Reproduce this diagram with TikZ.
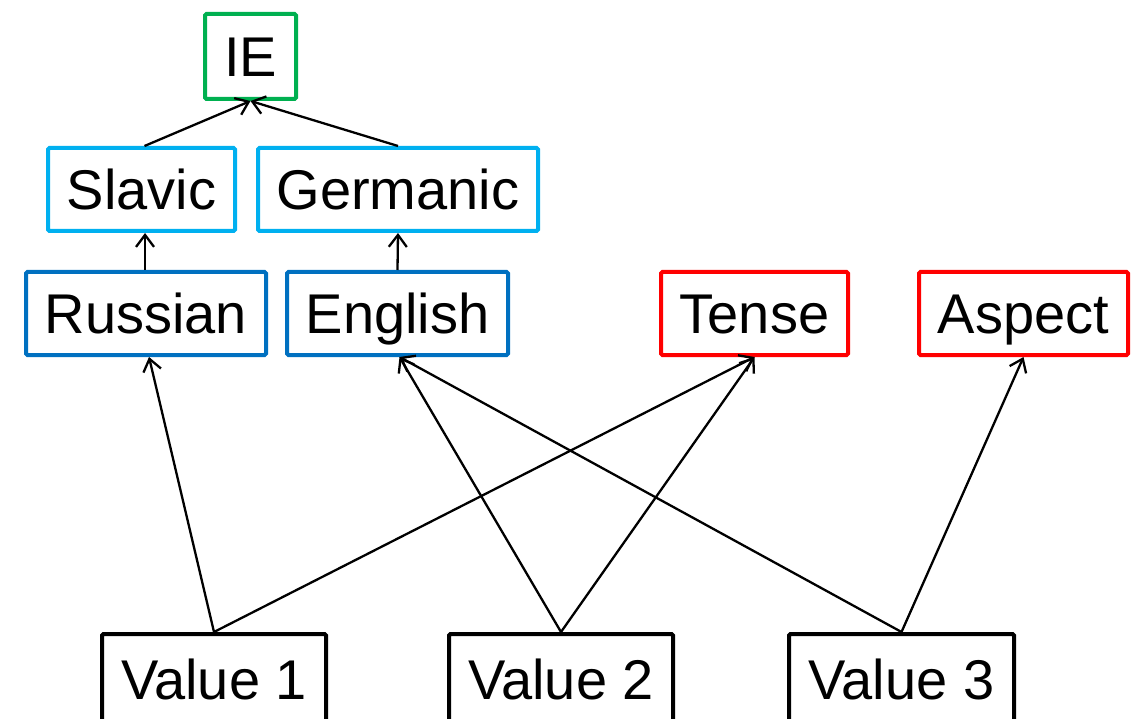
\documentclass[tikz,border=0pt]{standalone}
\usepackage{fontspec}
\setmainfont{Liberation Sans}
\usetikzlibrary{arrows.meta}
\definecolor{iegreen}{HTML}{00B050}
\definecolor{branchblue}{HTML}{00B0F0}
\definecolor{langblue}{HTML}{0070C0}
\definecolor{featred}{HTML}{FF0000}
\tikzset{
  box/.style={draw, line width=4pt, rounded corners=1.5pt, fill=white,
    inner sep=0pt, font=\fontsize{56}{60}\selectfont,
    text height=40pt, text depth=0pt},
  link/.style={line width=2.3pt, -{Straight Barb[length=12pt,width=18pt]}}
}
\begin{document}
\begin{tikzpicture}[x=1pt,y=-1pt]
\useasboundingbox (0,0) rectangle (1146,719);
\clip (0,0) rectangle (1146,719);
% family tree
\node[box, draw=iegreen, minimum width=91pt, minimum height=85pt] (ie) at (250.5,56.5) {IE};
\node[box, draw=branchblue, minimum width=187pt, minimum height=83pt] (sla) at (141.5,189.5) {Slavic};
\node[box, draw=branchblue, minimum width=280pt, minimum height=83pt] (ger) at (398,189.5) {Germanic};
\node[box, draw=langblue, minimum width=240pt, minimum height=83pt] (rus) at (146,313.5) {Russian};
\node[box, draw=langblue, minimum width=221pt, minimum height=83pt] (eng) at (397.5,313.5) {English};
% grammatical features
\node[box, draw=featred, minimum width=187pt, minimum height=83pt] (ten) at (754.5,313.5) {Tense};
\node[box, draw=featred, minimum width=209pt, minimum height=83pt] (asp) at (1023.5,313.5) {Aspect};
% values
\node[box, draw=black, minimum width=224pt, minimum height=90pt] (v1) at (214,679) {Value 1};
\node[box, draw=black, minimum width=224pt, minimum height=90pt] (v2) at (561,679) {Value 2};
\node[box, draw=black, minimum width=225pt, minimum height=90pt] (v3) at (901.5,679) {Value 3};
% links
\draw[link] ([xshift=3pt]sla.north) -- (ie.south);
\draw[link] (ger.north) -- (ie.south);
\draw[link] ([xshift=-1pt]rus.north) -- ([xshift=3.5pt]sla.south);
\draw[link] (eng.north) -- (ger.south);
\draw[link] (v1.north) -- ([xshift=3pt]rus.south);
\draw[link] (v1.north) -- (ten.south);
\draw[link] (v2.north) -- ([xshift=2pt]eng.south);
\draw[link] (v2.north) -- (ten.south);
\draw[link] (v3.north) -- ([xshift=2pt]eng.south);
\draw[link] (v3.north) -- (asp.south);
\end{tikzpicture}
\end{document}
